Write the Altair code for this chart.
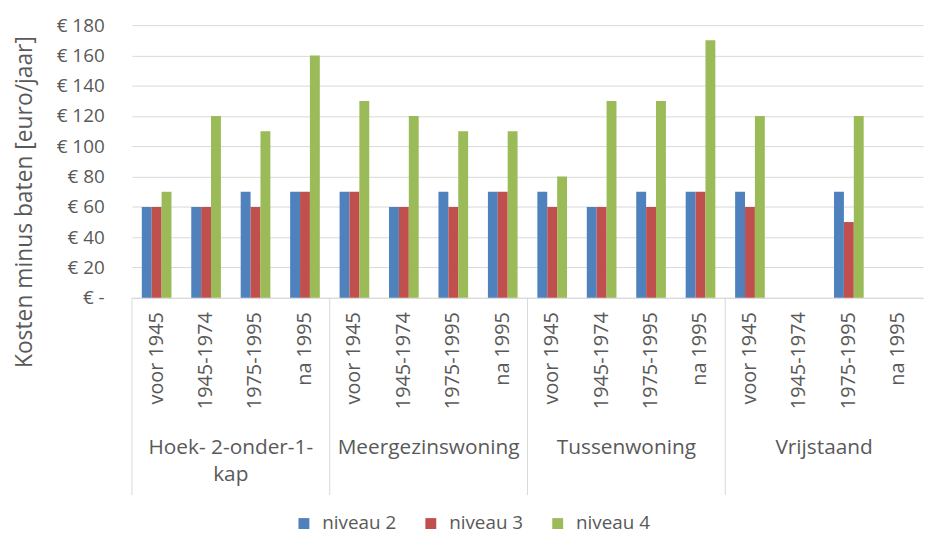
import altair as alt
import pandas as pd

groups = ["Hoek- 2-onder-1-kap", "Meergezinswoning", "Tussenwoning", "Vrijstaand"]
group_labels = ["Hoek- 2-onder-1-\nkap", "Meergezinswoning", "Tussenwoning", "Vrijstaand"]
periods = ["voor 1945", "1945-1974", "1975-1995", "na 1995"]
series = ["niveau 2", "niveau 3", "niveau 4"]
niveau2 = [60, 60, 70, 70, 70, 60, 70, 70, 70, 60, 70, 70, 70, None, 70, None]
niveau3 = [60, 60, 60, 70, 70, 60, 60, 70, 60, 60, 60, 70, 60, None, 50, None]
niveau4 = [70, 120, 110, 160, 130, 120, 110, 110, 80, 130, 130, 170, 120, None, 120, None]
colors = ["#4F81BD", "#C0504D", "#9BBB59"]
y_ticks = [0, 20, 40, 60, 80, 100, 120, 140, 160, 180]

FONT = "Open Sans"
GREY = "#595959"
LINE = "#D9D9D9"

keys = [f"{g}|{p}" for g in groups for p in periods]
rows = []
for s, vals in zip(series, [niveau2, niveau3, niveau4]):
    for k, v in zip(keys, vals):
        if v is not None:
            rows.append({"key": k, "series": s, "value": v})
df = pd.DataFrame(rows)
gdf = pd.DataFrame({"group": groups, "label": group_labels})

W, H = 798, 275

bars = alt.Chart(df).mark_bar().encode(
    x=alt.X("key:N", scale=alt.Scale(domain=keys, paddingInner=0.4, paddingOuter=0.2),
            axis=alt.Axis(title=None, labelExpr="split(datum.label, '|')[1]", labelAngle=270,
                          labelFont=FONT, labelFontSize=20, labelColor=GREY, labelPadding=14,
                          ticks=False, domainColor=LINE, grid=False, labelLimit=200)),
    xOffset=alt.XOffset("series:N", scale=alt.Scale(domain=series, paddingInner=0, paddingOuter=0)),
    y=alt.Y("value:Q", scale=alt.Scale(domain=[0, 180]),
            axis=alt.Axis(values=y_ticks, title="Kosten minus baten [euro/jaar]",
                          labelExpr="datum.value == 0 ? '€ -\u00a0\u00a0\u00a0' : '€ ' + datum.value",
                          labelFont=FONT, labelFontSize=19, labelColor=GREY, labelPadding=28,
                          ticks=False, domain=False, gridColor=LINE, gridWidth=1,
                          titleFont=FONT, titleFontSize=23, titleColor=GREY, titleFontWeight="normal",
                          titleX=-108, titleY=178, titleAlign="center", titleBaseline="middle",
                          titleAngle=270)),
    color=alt.Color("series:N", scale=alt.Scale(domain=series, range=colors),
                    legend=alt.Legend(title=None, orient="none", legendX=164, legendY=493,
                                      direction="horizontal", symbolType="square", symbolSize=121,
                                      symbolStrokeWidth=0, labelFont=FONT, labelFontSize=19,
                                      labelColor=GREY, labelOffset=9, columnPadding=25)),
)

gscale = alt.Scale(type="band", domain=groups, paddingInner=0, paddingOuter=0)

rules = alt.Chart(gdf).mark_rule(color=LINE, strokeWidth=1).encode(
    x=alt.X("group:N", scale=gscale, axis=None, bandPosition=0),
    y=alt.value(H), y2=alt.value(H + 199),
)

texts = alt.Chart(gdf).mark_text(font=FONT, fontSize=21, color=GREY, lineBreak="\n",
                                 baseline="top", lineHeight=27).encode(
    x=alt.X("group:N", scale=gscale, axis=None, bandPosition=0.5),
    y=alt.value(H + 141),
    text="label:N",
)

chart = alt.layer(rules, bars, texts).resolve_scale(x="independent").properties(
    width=W, height=H,
    autosize=alt.AutoSizeParams(type="none"),
    padding={"left": 125, "top": 15, "right": 2, "bottom": 237},
).configure_view(stroke=None)

chart.save("out.html", embed_options={"renderer": "svg", "actions": False})
